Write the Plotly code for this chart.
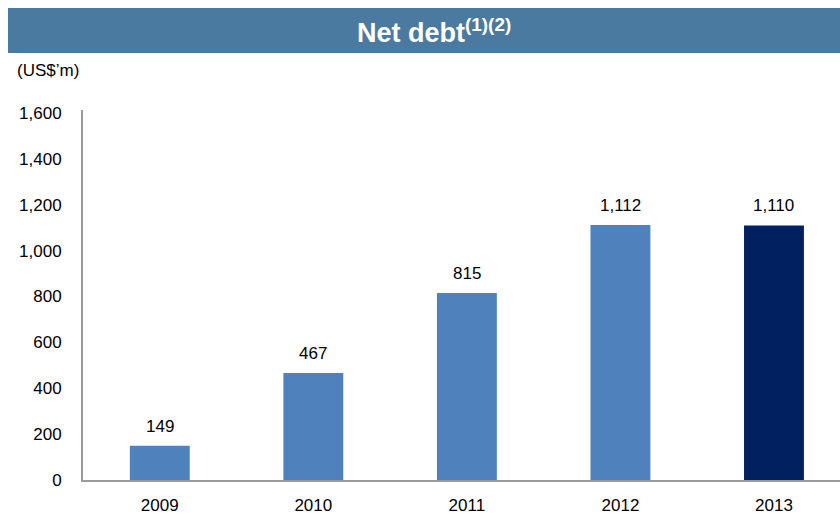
import plotly.graph_objects as go

# Net debt by year (US$ millions)
years = ["2009", "2010", "2011", "2012", "2013"]
net_debt = [149, 467, 815, 1112, 1110]
bar_colors = ["#4f81bd", "#4f81bd", "#4f81bd", "#4f81bd", "#002060"]
y_ticks = [0, 200, 400, 600, 800, 1000, 1200, 1400, 1600]

W, H = 840, 515
L, R, T, B = 83, 0, 110, 35
pw, ph = W - L - R, H - T - B


def px_x(x):
    return (x - L) / pw


def px_y(y):
    return (H - B - y) / ph


fig = go.Figure(
    go.Bar(
        x=years,
        y=net_debt,
        marker=dict(color=bar_colors, line=dict(width=0)),
        width=0.39,
        hoverinfo="x+y",
    )
)

# value labels above the bars
for i, v in enumerate(net_debt):
    fig.add_annotation(
        x=i, y=v, text=f"{v:,}", showarrow=False,
        yanchor="bottom", yshift=8,
        font=dict(size=17, color="#000000"),
    )

# title banner
fig.add_shape(
    type="rect", xref="paper", yref="paper",
    x0=px_x(8), x1=px_x(840), y0=px_y(53), y1=px_y(8),
    fillcolor="#4a7aa0", line=dict(width=0), layer="below",
)
fig.add_annotation(
    xref="paper", yref="paper", x=px_x(434), y=px_y(31),
    text="<b>Net debt<sup>(1)(2)</sup></b>", showarrow=False,
    xanchor="center", yanchor="middle",
    font=dict(size=27, color="#ffffff"),
)
# unit label
fig.add_annotation(
    xref="paper", yref="paper", x=px_x(15), y=px_y(70),
    text="(US$\u2019m)", showarrow=False,
    xanchor="left", yanchor="middle",
    font=dict(size=17, color="#000000"),
)

fig.update_layout(
    width=W, height=H,
    margin=dict(l=L, r=R, t=T, b=B, pad=0),
    paper_bgcolor="#ffffff", plot_bgcolor="#ffffff",
    font=dict(family="Liberation Sans, Arial, sans-serif", size=17, color="#000000"),
    showlegend=False,
)
fig.update_xaxes(
    type="category",
    range=[-0.5, 4.43],
    showline=True, linecolor="#9a9a9a", linewidth=2,
    showgrid=False, zeroline=False,
    ticks="outside", ticklen=9, tickcolor="rgba(0,0,0,0)",
    tickfont=dict(size=17),
    fixedrange=True,
)
fig.update_yaxes(
    range=[0, 1613],
    tickvals=y_ticks,
    ticktext=[f"{t:,}" for t in y_ticks],
    showline=True, linecolor="#9a9a9a", linewidth=2,
    showgrid=False, zeroline=False,
    ticks="outside", ticklen=16, tickcolor="rgba(0,0,0,0)",
    tickfont=dict(size=17),
    fixedrange=True,
)

fig.write_html("out.html")
